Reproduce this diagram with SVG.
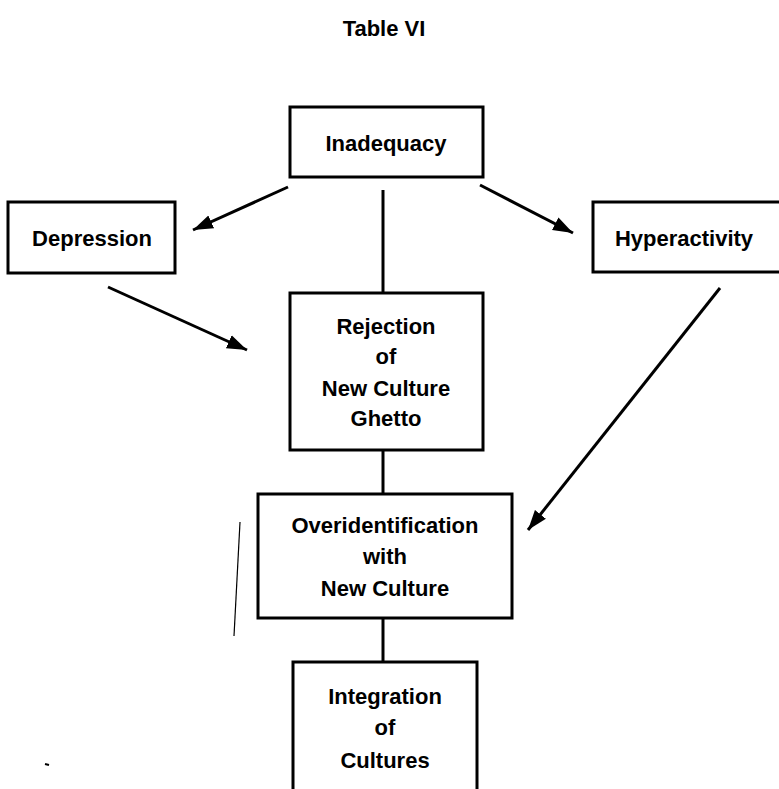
<svg xmlns="http://www.w3.org/2000/svg" width="779" height="789" viewBox="0 0 779 789">
<style>
.box{fill:#fff;stroke:#000;stroke-width:3}
.t{font-family:"Liberation Sans",Arial,sans-serif;font-weight:bold;font-size:22px;text-anchor:middle;fill:#000}
.c{stroke:#000;stroke-width:3;fill:none}
</style>
<defs>
<marker id="ah" markerUnits="userSpaceOnUse" markerWidth="22" markerHeight="16" viewBox="0 0 22 16" refX="20" refY="8" orient="auto">
<path d="M0,1 L20,8 L0,15 Z" fill="#000"/>
</marker>
</defs>
<rect width="779" height="789" fill="#fff"/>
<text class="t" x="384" y="36">Table VI</text>
<g id="connectors">
<line class="c" x1="383" y1="190" x2="383" y2="292"/>
<line class="c" x1="383" y1="450" x2="383" y2="494"/>
<line class="c" x1="383" y1="618" x2="383" y2="662"/>
<line class="c" x1="288" y1="187" x2="193" y2="230" marker-end="url(#ah)"/>
<line class="c" x1="480" y1="185" x2="573" y2="233" marker-end="url(#ah)"/>
<line class="c" x1="108" y1="287" x2="247" y2="350" marker-end="url(#ah)"/>
<line class="c" x1="720" y1="288" x2="528" y2="530" marker-end="url(#ah)"/>
</g>
<g id="inadequacy">
<rect class="box" x="290" y="107" width="193" height="70"/>
<text class="t" x="386" y="151">Inadequacy</text>
</g>
<g id="depression">
<rect class="box" x="8" y="202" width="167" height="71"/>
<text class="t" x="92" y="246">Depression</text>
</g>
<g id="hyperactivity">
<rect class="box" x="593" y="202" width="200" height="70"/>
<text class="t" x="684" y="246">Hyperactivity</text>
</g>
<g id="rejection">
<rect class="box" x="290" y="293" width="193" height="157"/>
<text class="t" x="386" y="334">Rejection</text>
<text class="t" x="386" y="364">of</text>
<text class="t" x="386" y="396">New Culture</text>
<text class="t" x="386" y="426">Ghetto</text>
</g>
<g id="overidentification">
<rect class="box" x="258" y="494" width="254" height="124"/>
<text class="t" x="385" y="533">Overidentification</text>
<text class="t" x="385" y="564">with</text>
<text class="t" x="385" y="596">New Culture</text>
</g>
<g id="integration">
<rect class="box" x="293" y="662" width="184" height="140"/>
<text class="t" x="385" y="704">Integration</text>
<text class="t" x="385" y="735">of</text>
<text class="t" x="385" y="768">Cultures</text>
</g>
<line x1="240" y1="522" x2="234" y2="636" stroke="#000" stroke-width="1.2"/>
<line x1="45" y1="764" x2="49" y2="765" stroke="#000" stroke-width="2"/>
</svg>
